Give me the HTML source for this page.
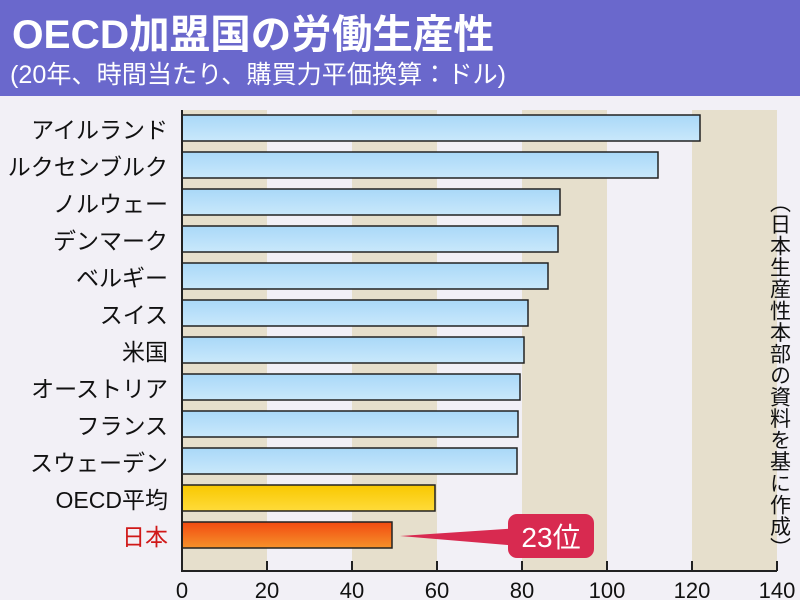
<!DOCTYPE html>
<html><head><meta charset="utf-8"><style>
body{margin:0;width:800px;height:600px;overflow:hidden;background:#f2f0f6;font-family:"Liberation Sans","Noto Sans CJK JP",sans-serif}
</style></head><body>
<svg width="800" height="600" xmlns="http://www.w3.org/2000/svg" style="display:block;font-family:'Liberation Sans','Noto Sans CJK JP',sans-serif">
<defs>
<linearGradient id="b" x1="0" y1="0" x2="0" y2="1"><stop offset="0" stop-color="#a9d8f8"/><stop offset="1" stop-color="#c9e8fb"/></linearGradient>
<linearGradient id="y" x1="0" y1="0" x2="0" y2="1"><stop offset="0" stop-color="#f8c800"/><stop offset="1" stop-color="#ffdb3a"/></linearGradient>
<linearGradient id="r" x1="0" y1="0" x2="0" y2="1"><stop offset="0" stop-color="#f24a10"/><stop offset="1" stop-color="#f6922a"/></linearGradient>
</defs>
<rect x="0" y="0" width="800" height="96" fill="#6a68cc"/>
<text x="12" y="48" font-size="40" font-weight="bold" fill="#fff" textLength="482" lengthAdjust="spacingAndGlyphs">OECD加盟国の労働生産性</text>
<text x="10" y="83" font-size="25" fill="#fff" textLength="496" lengthAdjust="spacingAndGlyphs">(20年、時間当たり、購買力平価換算：ドル)</text>
<g fill="#e6dfcc">
<rect x="182" y="110" width="85" height="461"/>
<rect x="352" y="110" width="85" height="461"/>
<rect x="522" y="110" width="85" height="461"/>
<rect x="692" y="110" width="85" height="461"/>
</g>
<g stroke="#222" stroke-width="1.5">
<rect x="182" y="115" width="518" height="26" fill="url(#b)"/>
<rect x="182" y="152" width="476" height="26" fill="url(#b)"/>
<rect x="182" y="189" width="378" height="26" fill="url(#b)"/>
<rect x="182" y="226" width="376" height="26" fill="url(#b)"/>
<rect x="182" y="263" width="366" height="26" fill="url(#b)"/>
<rect x="182" y="300" width="346" height="26" fill="url(#b)"/>
<rect x="182" y="337" width="342" height="26" fill="url(#b)"/>
<rect x="182" y="374" width="338" height="26" fill="url(#b)"/>
<rect x="182" y="411" width="336" height="26" fill="url(#b)"/>
<rect x="182" y="448" width="335" height="26" fill="url(#b)"/>
<rect x="182" y="485" width="253" height="26" fill="url(#y)"/>
<rect x="182" y="522" width="210" height="26" fill="url(#r)"/>
</g>
<path d="M182 110V571H777M267 571v-10M352 571v-10M437 571v-10M522 571v-10M607 571v-10M692 571v-10M777 571v-10" stroke="#222" stroke-width="2" fill="none"/>
<g font-size="22" text-anchor="middle" fill="#111">
<text x="182" y="598">0</text><text x="267" y="598">20</text><text x="352" y="598">40</text><text x="437" y="598">60</text><text x="522" y="598">80</text><text x="607" y="598">100</text><text x="692" y="598">120</text><text x="777" y="598">140</text>
</g>
<g font-size="23" text-anchor="end" fill="#111">
<text x="168" y="138">アイルランド</text>
<text x="168" y="175">ルクセンブルク</text>
<text x="168" y="212">ノルウェー</text>
<text x="168" y="249">デンマーク</text>
<text x="168" y="286">ベルギー</text>
<text x="168" y="323">スイス</text>
<text x="168" y="360">米国</text>
<text x="168" y="397">オーストリア</text>
<text x="168" y="434">フランス</text>
<text x="168" y="471">スウェーデン</text>
<text x="168" y="508">OECD平均</text>
<text x="168" y="545" fill="#d01818">日本</text>
</g>
<path d="M400 536L520 528L520 546Z" fill="#d82a50"/>
<rect x="508" y="514" width="86" height="44" rx="9" fill="#d82a50"/>
<text x="551" y="547" font-size="28" text-anchor="middle" fill="#fff">23位</text>
<text x="779" y="192" font-size="21" fill="#111" style="writing-mode:vertical-rl" textLength="366" lengthAdjust="spacing">（日本生産性本部の資料を基に作成）</text>
</svg>
</body></html>
